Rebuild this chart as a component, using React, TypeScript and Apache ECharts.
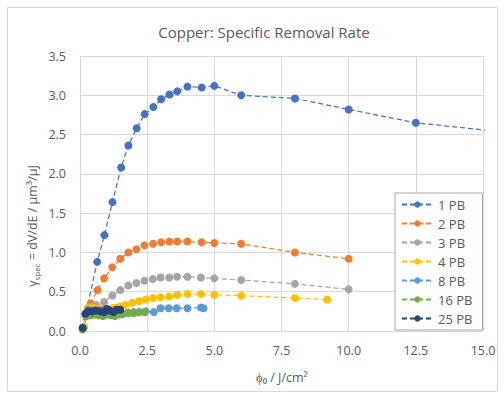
import React, { useEffect, useRef } from "react";
import * as echarts from "echarts";

const seriesNames = ["1 PB", "2 PB", "3 PB", "4 PB", "8 PB", "16 PB", "25 PB"];
const colors = ["#4472C4", "#ED7D31", "#A5A5A5", "#FFC000", "#5B9BD5", "#70AD47", "#264478"];

const pb1X = [0.1, 0.64, 0.91, 1.21, 1.53, 1.8, 2.11, 2.41, 2.73, 3.02, 3.33, 3.62, 4.0, 4.53, 5.0, 6.0, 8.0, 10.0, 12.5, 17.5];
const pb1Y = [0.04, 0.88, 1.22, 1.64, 2.08, 2.36, 2.58, 2.76, 2.85, 2.95, 3.01, 3.05, 3.11, 3.1, 3.12, 3.0, 2.96, 2.82, 2.65, 2.47];

const pb2X = [0.15, 0.4, 0.65, 0.9, 1.2, 1.5, 1.8, 2.1, 2.4, 2.72, 3.02, 3.33, 3.62, 4.0, 4.53, 5.0, 6.0, 8.0, 10.0];
const pb2Y = [0.05, 0.35, 0.52, 0.67, 0.81, 0.92, 1.0, 1.04, 1.09, 1.11, 1.13, 1.14, 1.14, 1.14, 1.13, 1.12, 1.11, 1.0, 0.92];

const pb3X = [0.15, 0.35, 0.6, 0.9, 1.2, 1.5, 1.8, 2.1, 2.4, 2.71, 3.0, 3.32, 3.61, 4.0, 4.5, 5.0, 6.0, 8.0, 10.0];
const pb3Y = [0.05, 0.3, 0.33, 0.37, 0.45, 0.52, 0.58, 0.61, 0.64, 0.66, 0.68, 0.68, 0.69, 0.69, 0.68, 0.67, 0.65, 0.6, 0.53];

const pb4X = [0.15, 0.3, 0.45, 0.6, 0.75, 0.9, 1.05, 1.2, 1.35, 1.5, 1.7, 1.95, 2.2, 2.45, 2.72, 3.0, 3.32, 3.62, 4.0, 4.5, 5.0, 6.0, 8.0, 9.2];
const pb4Y = [0.05, 0.3, 0.3, 0.28, 0.29, 0.27, 0.28, 0.29, 0.3, 0.31, 0.33, 0.36, 0.38, 0.4, 0.42, 0.43, 0.44, 0.46, 0.47, 0.47, 0.46, 0.45, 0.42, 0.4];

const pb8X = [0.1, 0.2, 0.3, 0.45, 0.6, 0.75, 0.9, 1.05, 1.2, 1.4, 1.6, 1.8, 2.0, 2.2, 2.45, 2.75, 3.0, 3.3, 3.6, 4.0, 4.5, 4.6];
const pb8Y = [0.03, 0.2, 0.27, 0.26, 0.25, 0.26, 0.27, 0.25, 0.24, 0.23, 0.22, 0.23, 0.24, 0.24, 0.25, 0.24, 0.29, 0.29, 0.29, 0.29, 0.3, 0.29];

const pb16X = [0.1, 0.25, 0.4, 0.55, 0.7, 0.85, 1.0, 1.15, 1.3, 1.45, 1.6, 1.8, 2.0, 2.2, 2.4];
const pb16Y = [0.02, 0.19, 0.2, 0.21, 0.2, 0.19, 0.21, 0.2, 0.19, 0.21, 0.22, 0.23, 0.23, 0.24, 0.24];

const pb25X = [0.1, 0.2, 0.3, 0.45, 0.6, 0.75, 0.9, 1.0, 1.1, 1.25, 1.35, 1.5];
const pb25Y = [0.04, 0.22, 0.25, 0.25, 0.26, 0.25, 0.24, 0.28, 0.26, 0.24, 0.27, 0.27];

const allX = [pb1X, pb2X, pb3X, pb4X, pb8X, pb16X, pb25X];
const allY = [pb1Y, pb2Y, pb3Y, pb4Y, pb8Y, pb16Y, pb25Y];

const FONT = "Open Sans";
const TXT = "#595959";

export default function App() {
  const ref = useRef<HTMLDivElement>(null);
  useEffect(() => {
    if (!ref.current) return;
    const chart = echarts.init(ref.current, null, { renderer: "svg" });
    const series = seriesNames.map((name, i) => ({
      name,
      type: "line",
      data: allX[i].map((x, j) => [x, allY[i][j]]),
      symbol: "circle",
      symbolSize: 8,
      showSymbol: true,
      clip: true,
      color: colors[i],
      itemStyle: { color: colors[i] },
      lineStyle: { color: colors[i], width: 1.25, type: [5, 3] },
      emphasis: { disabled: true },
    }));
    chart.setOption({
      animation: false,
      backgroundColor: "#ffffff",
      title: {
        text: "Copper: Specific Removal Rate",
        left: 259,
        top: 19,
        textAlign: "center",
        textStyle: { fontFamily: FONT, fontSize: 15, fontWeight: "normal", color: TXT },
      },
      grid: { left: 80, right: 21, top: 56, bottom: 67, containLabel: false },
      xAxis: {
        type: "value",
        min: 0,
        max: 15,
        interval: 2.5,
        axisLine: { show: true, lineStyle: { color: "#d9d9d9" } },
        axisTick: { show: false },
        splitLine: { show: true, lineStyle: { color: "#d9d9d9" } },
        axisLabel: {
          margin: 13,
          fontFamily: FONT,
          fontSize: 12.5,
          color: TXT,
          formatter: (v: number) => v.toFixed(1),
        },
      },
      yAxis: {
        type: "value",
        min: 0,
        max: 3.5,
        interval: 0.5,
        axisLine: { show: true, lineStyle: { color: "#d9d9d9" } },
        axisTick: { show: false },
        splitLine: { show: true, lineStyle: { color: "#d9d9d9" } },
        axisLabel: {
          margin: 14,
          fontFamily: FONT,
          fontSize: 12.5,
          color: TXT,
          formatter: (v: number) => v.toFixed(1),
        },
      },
      legend: {
        data: seriesNames,
        orient: "vertical",
        left: 395,
        top: 193,
        padding: [3, 10, 3, 6],
        itemWidth: 31,
        itemHeight: 8,
        itemGap: 2,
        borderColor: "#a6a6a6",
        borderWidth: 1,
        backgroundColor: "#ffffff",
        textStyle: { fontFamily: FONT, fontSize: 13, color: TXT, lineHeight: 17 },
      },
      graphic: [
        {
          type: "rect",
          shape: { x: 7.5, y: 7.5, width: 490, height: 384 },
          style: { fill: "none", stroke: "#d9d9d9", lineWidth: 1 },
          silent: true,
          z: -1,
        },
        {
          type: "text",
          x: 32,
          y: 226,
          rotation: Math.PI / 2,
          style: {
            text: "{n|γ}{s|spec}{n| = dV/dE / µm³/µJ}",
            align: "center",
            verticalAlign: "middle",
            fontFamily: FONT,
            fontSize: 12.5,
            fill: TXT,
            rich: {
              n: { fontFamily: FONT, fontSize: 12.5, color: TXT, lineHeight: 16 },
              s: { fontFamily: FONT, fontSize: 8, color: TXT, verticalAlign: "bottom", lineHeight: 16 },
            },
          },
          silent: true,
        },
        {
          type: "text",
          x: 282,
          y: 377,
          style: {
            text: "ϕ₀ / J/cm²",
            align: "center",
            verticalAlign: "middle",
            fontFamily: FONT,
            fontSize: 12.5,
            fill: TXT,
          },
          silent: true,
        },
      ],
      series,
    });
    return () => chart.dispose();
  }, []);
  return (
    <div
      ref={ref}
      style={{ position: "fixed", left: 0, top: 0, width: 504, height: 398 }}
    />
  );
}
